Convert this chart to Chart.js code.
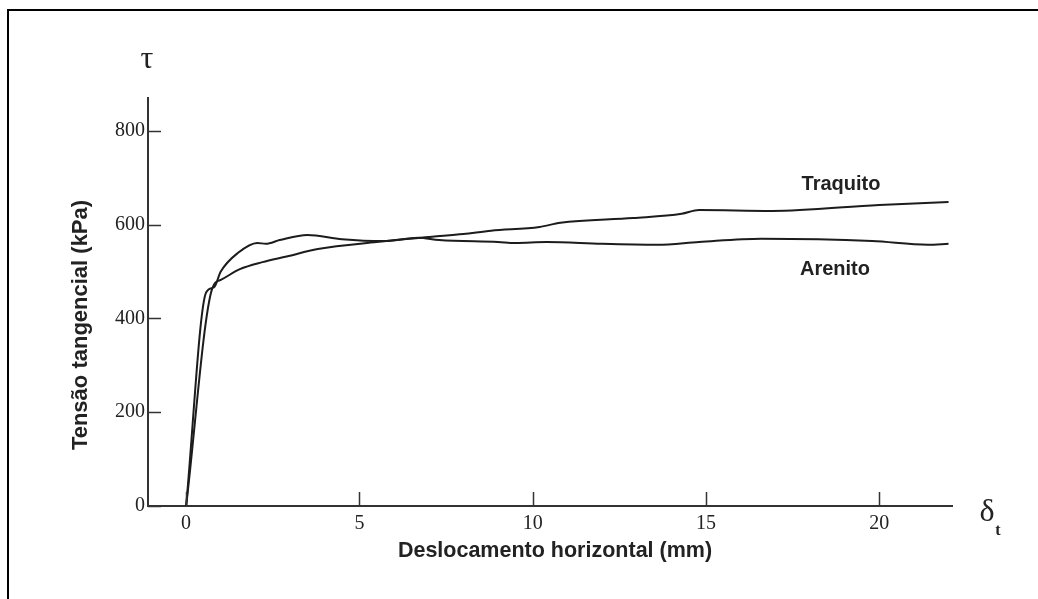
<!DOCTYPE html>
<html>
<head>
<meta charset="utf-8">
<script src="https://cdn.jsdelivr.net/npm/chart.js@4/dist/chart.umd.min.js"></script>
<style>
  html, body { margin:0; padding:0; background:#fff; }
  #wrap { width:1038px; height:599px; }
</style>
</head>
<body>
<div id="wrap"><canvas id="chart" width="1038" height="599"></canvas></div>
<script>
// deslocamento (mm) vs tensão (kPa)
const arenitoX = [0, 0.58, 0.8, 1.0, 1.5, 2.05, 2.3, 2.7, 3.5, 4.5, 5.7, 6.7, 7.3, 9.0, 9.5, 10.4, 12.0, 13.6, 14.8, 16.6, 19.8, 21.4, 22.0];
const arenitoY = [0, 456, 466, 500, 540, 561, 559, 567, 578, 569, 565, 572, 567, 563, 561, 563, 559, 557, 563, 570, 565, 557, 559];
const traquitoX = [0, 0.75, 1.0, 1.55, 2.2, 2.9, 3.8, 5.5, 7.1, 8.0, 8.8, 10.2, 10.8, 12.9, 14.3, 14.8, 16.9, 20.0, 22.0];
const traquitoY = [0, 463, 482, 505, 520, 532, 548, 563, 574, 580, 587, 595, 604, 614, 623, 631, 629, 642, 648];
const xTicks = [0, 5, 10, 15, 20];
const yTicks = [0, 200, 400, 600, 800];

const pts = (xs, ys) => xs.map((x, i) => ({x: x, y: ys[i]}));
const ink = '#1c1c1c';
const serif = '"Liberation Serif", "Times New Roman", serif';
const sans = '"Liberation Sans", Arial, sans-serif';

// inward tick marks, frame and the loose labels of the scanned figure
const decor = {
  id: 'decor',
  beforeDraw(chart){
    const c = chart.ctx;
    c.save();
    c.strokeStyle = '#000';
    c.lineWidth = 2;
    c.strokeRect(8, 10, 1200, 800);
    c.restore();
  },
  afterDraw(chart){
    const c = chart.ctx, xs = chart.scales.x, ys = chart.scales.y, a = chart.chartArea;
    c.save();
    c.strokeStyle = '#333';
    c.lineWidth = 1.5;
    yTicks.forEach(v => {
      const py = Math.round(ys.getPixelForValue(v)) + 0.5;
      c.beginPath(); c.moveTo(a.left, py); c.lineTo(a.left + 13, py); c.stroke();
    });
    xTicks.forEach(v => {
      const px = Math.round(xs.getPixelForValue(v)) + 0.5;
      c.beginPath(); c.moveTo(px, a.bottom); c.lineTo(px, a.bottom - 14); c.stroke();
    });

    c.fillStyle = '#222';
    c.textAlign = 'center';
    c.textBaseline = 'middle';
    c.font = 'bold 21.5px ' + sans;
    c.fillText('Deslocamento horizontal (mm)', 555, 551);
    c.save();
    c.translate(81, 325);
    c.rotate(-Math.PI/2);
    c.font = 'bold 22px ' + sans;
    c.fillText('Tensão tangencial (kPa)', 0, 0);
    c.restore();

    c.font = 'bold 20px ' + sans;
    c.fillText('Traquito', 841, 184);
    c.fillText('Arenito', 835, 269);

    c.font = '32px ' + serif;
    c.fillText('τ', 147, 60);
    c.font = '32px ' + serif;
    c.fillText('δ', 987, 513);
    c.font = 'bold 16px ' + serif;
    c.fillText('t', 998, 531);
    c.restore();
  }
};

new Chart(document.getElementById('chart').getContext('2d'), {
  type: 'scatter',
  data: {
    datasets: [
      {label:'Arenito', data: pts(arenitoX, arenitoY), showLine:true, borderColor:ink, borderWidth:2, pointRadius:0, cubicInterpolationMode:'monotone'},
      {label:'Traquito', data: pts(traquitoX, traquitoY), showLine:true, borderColor:ink, borderWidth:2, pointRadius:0, cubicInterpolationMode:'monotone'}
    ]
  },
  options: {
    responsive: false,
    animation: false,
    layout: { padding: { left:0, top:98, right:86, bottom:0 } },
    plugins: { legend:{display:false}, tooltip:{enabled:false} },
    scales: {
      x: {
        type:'linear', min:-1.1, max:22.1,
        afterFit: s => { s.height = 93; },
        grid: { display:false, drawTicks:false },
        border: { display:true, color:'#333', width:2 },
        ticks: { stepSize:5, includeBounds:false, padding:6, color:'#222', maxRotation:0,
                 font:{ family:serif, size:20 } }
      },
      y: {
        type:'linear', min:0, max:870,
        afterFit: s => { s.width = 148; },
        grid: { display:false, drawTicks:false },
        border: { display:true, color:'#333', width:2 },
        ticks: { stepSize:200, includeBounds:false, padding:3, color:'#222',
                 font:{ family:serif, size:20 } }
      }
    }
  },
  plugins: [decor]
});
</script>
</body>
</html>
